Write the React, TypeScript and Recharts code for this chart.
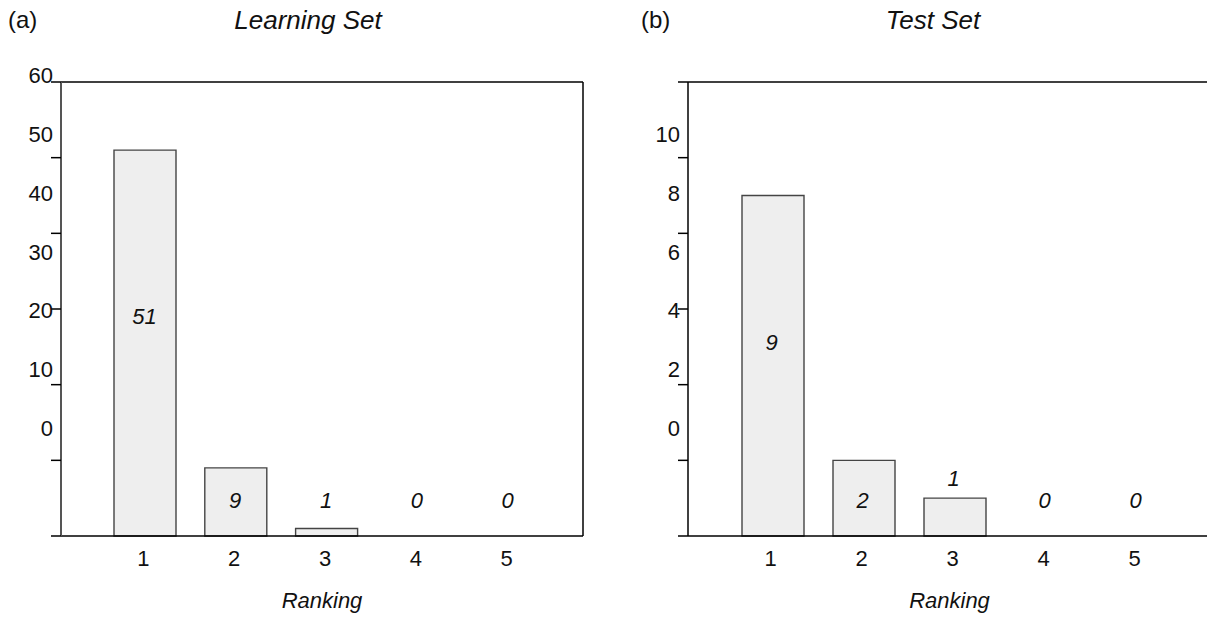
import { ComposedChart, Bar, Scatter, XAxis, YAxis, ReferenceLine } from "recharts";

const ranks = ["1", "2", "3", "4", "5"];
const learningCounts = [51, 9, 1, 0, 0];
const testCounts = [9, 2, 1, 0, 0];
const learningTicks = [0, 10, 20, 30, 40, 50, 60];
const testTicks = [0, 2, 4, 6, 8, 10, 12];
const testHiddenLabels = [12];

const FONT = "'Liberation Sans', Arial, sans-serif";
const CHART_H = 620;
const XAXIS_H = 84;
const PLOT_TOP = 82;
const PLOT_BOTTOM = CHART_H - XAXIS_H;

// the source figure prints its y labels on a squeezed scale, offset from the tick marks
const makeYTick = (hidden: number[]) => (props: any) => {
  const { x, y, payload } = props;
  if (hidden.includes(payload.value)) return null;
  const ly = PLOT_TOP - 7 + (y - PLOT_TOP) * 0.778;
  return (
    <text x={x + 4} y={ly} dy="0.36em" textAnchor="end" fontSize={22} fill="#111" fontFamily={FONT}>
      {payload.value}
    </text>
  );
};

// count labels, drawn through a scatter so that zero-height bars get one too
const CountLabel = (props: any) => {
  const { cx, cy, payload } = props;
  const height = PLOT_BOTTOM - cy;
  const base = PLOT_BOTTOM - 36;
  let ly;
  if (height > 200) ly = cy + height * 0.43;
  else if (cy < base - 12) ly = base;
  else ly = Math.min(base, cy - 20);
  return (
    <text x={cx - 1} y={ly} dy="0.36em" textAnchor="middle" fontSize={22} fontStyle="italic" fill="#111" fontFamily={FONT}>
      {payload.count}
    </text>
  );
};

type PanelProps = {
  counts: number[];
  ticks: number[];
  hidden: number[];
  left: number;
  axisColor: string;
  axisWidth: number;
  rightBorder: boolean;
};

const Panel = ({ counts, ticks, hidden, left, axisColor, axisWidth, rightBorder }: PanelProps) => {
  const data = ranks.map((r, i) => ({ rank: r, count: counts[i] }));
  const max = ticks[ticks.length - 1];
  return (
    <div style={{ position: "absolute", left, top: 0 }}>
      <ComposedChart width={600} height={CHART_H} data={data} margin={{ top: PLOT_TOP, right: 16, left: 0, bottom: 0 }}>
        <XAxis
          dataKey="rank"
          height={XAXIS_H}
          padding={{ left: 39, right: 29 }}
          tickLine={false}
          tickMargin={8}
          axisLine={{ stroke: "#000", strokeWidth: 1.5 }}
          tick={{ fontSize: 22, fill: "#111", fontFamily: FONT, dx: -2 }}
          label={{ value: "Ranking", position: "insideBottom", offset: 12, fontSize: 22, fontStyle: "italic", fill: "#111", fontFamily: FONT }}
        />
        <YAxis
          width={61}
          domain={[0, max]}
          ticks={ticks}
          tickSize={10}
          tickLine={{ stroke: "#000", strokeWidth: 1.5 }}
          axisLine={{ stroke: axisColor, strokeWidth: axisWidth }}
          tick={makeYTick(hidden)}
        />
        {rightBorder && (
          <YAxis yAxisId="right" orientation="right" width={1} tick={false} tickLine={false} axisLine={{ stroke: "#000", strokeWidth: 1.5 }} />
        )}
        <ReferenceLine y={max} stroke="#000" strokeWidth={1.5} />
        <Bar dataKey="count" barSize={62} fill="#eeeeee" stroke="#444" strokeWidth={1.4} isAnimationActive={false} />
        <Scatter dataKey="count" shape={CountLabel} isAnimationActive={false} />
      </ComposedChart>
    </div>
  );
};

const titleStyle = {
  position: "absolute" as const,
  top: 6,
  fontSize: 26,
  fontFamily: FONT,
  color: "#111",
  lineHeight: "28px",
  whiteSpace: "nowrap" as const,
};

export default function App() {
  return (
    <div style={{ position: "absolute", left: 0, top: 0, width: 1207, height: 620, overflow: "hidden", background: "#fff" }}>
      <Panel counts={learningCounts} ticks={learningTicks} hidden={[]} left={0} axisColor="#555" axisWidth={2} rightBorder={true} />
      <Panel counts={testCounts} ticks={testTicks} hidden={testHiddenLabels} left={627} axisColor="#000" axisWidth={1.5} rightBorder={false} />
      <div style={{ ...titleStyle, left: 8, fontSize: 24 }}>(a)</div>
      <div style={{ ...titleStyle, left: 308, transform: "translateX(-50%)", fontStyle: "italic" }}>Learning Set</div>
      <div style={{ ...titleStyle, left: 641, fontSize: 24 }}>(b)</div>
      <div style={{ ...titleStyle, left: 933, transform: "translateX(-50%)", fontStyle: "italic" }}>Test Set</div>
    </div>
  );
}
